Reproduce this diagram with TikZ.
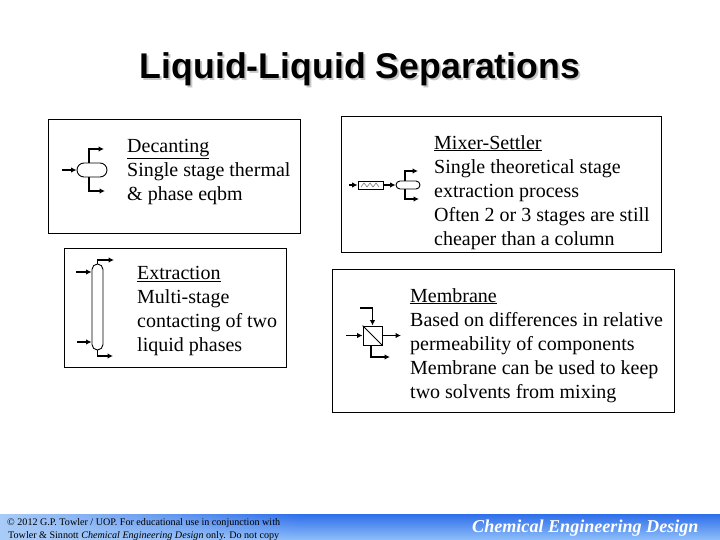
\documentclass[tikz,border=0pt]{standalone}
\usepackage{fontspec}
\setmainfont{Liberation Serif}
\newfontfamily\titlefont{Liberation Sans}
\usetikzlibrary{arrows.meta,fadings}

\definecolor{bandtop}{HTML}{2E6EEA}
\definecolor{bandlow}{HTML}{8FBEFA}
\definecolor{bandpale}{HTML}{A9CCF8}

\tikzset{
	panel/.style={draw=black, line width=0.9pt, inner sep=0pt, anchor=north west},
	label/.style={anchor=north west, inner sep=0pt, align=left, font=\fontsize{20}{24}\selectfont},
	vessel/.style={draw=black, line width=0.9pt, inner sep=0pt, fill=white},
	stream/.style={line width=1.8pt, -{Latex[length=5.5pt,width=5.5pt]}}
}

\begin{document}
\begin{tikzpicture}[x=1pt,y=-1pt]

	\useasboundingbox (0,0) rectangle (720,540);

	% Footer band

	\fill[top color=bandtop, bottom color=bandlow] (0,514) rectangle (720,540);
	\fill[bandpale, path fading=east] (0,514) rectangle (300,540);

	% Title

	\node[gray!45, font=\titlefont\bfseries\fontsize{35.7}{40}\selectfont] (shade) at (362,71) {Liquid-Liquid Separations};
	\node[font=\titlefont\bfseries\fontsize{35.7}{40}\selectfont] (title) at (360,69) {Liquid-Liquid Separations};

	% Panels

	\node[panel, minimum width=252pt, minimum height=114pt] (boxdec) at (48,119) {};
	\node[panel, minimum width=222pt, minimum height=119pt] (boxext) at (64,248) {};
	\node[panel, minimum width=320pt, minimum height=136pt] (boxmix) at (341,116) {};
	\node[panel, minimum width=342pt, minimum height=143pt] (boxmem) at (332,269) {};

	\node[label] (txtdec) at (127,139) {\underline{Decanting}\\Single stage thermal\\\& phase eqbm};
	\node[label] (txtext) at (137,266) {\underline{Extraction}\\Multi-stage\\contacting of two\\liquid phases};
	\node[label] (txtmix) at (434,135) {\underline{Mixer-Settler}\\Single theoretical stage\\extraction process\\Often 2 or 3 stages are still\\cheaper than a column};
	\node[label] (txtmem) at (410,288) {\underline{Membrane}\\Based on differences in relative\\permeability of components\\Membrane can be used to keep\\two solvents from mixing};

	% Equipment

	\node[vessel, minimum width=30pt, minimum height=14pt, rounded corners=7pt] (dec) at (92,170) {};
	\node[vessel, minimum width=11pt, minimum height=86pt, rounded corners=5.5pt] (col) at (97.5,307) {};
	\node[vessel, minimum width=25pt, minimum height=8pt] (mix) at (370.5,185) {};
	\node[vessel, minimum width=24pt, minimum height=8pt, rounded corners=4pt] (set) at (408,185) {};
	\node[vessel, minimum width=19pt, minimum height=19pt] (mem) at (372.5,335.5) {};

	% Stream ends

	\coordinate (decin) at (62,170);
	\coordinate (dectop) at (104,149);
	\coordinate (decbot) at (105,191);
	\coordinate (extin1) at (76,272);
	\coordinate (extin2) at (77,342);
	\coordinate (exttop) at (114,260);
	\coordinate (extbot) at (113,356);
	\coordinate (mixin) at (349,185);
	\coordinate (settop) at (418,171);
	\coordinate (setbot) at (419,199);
	\coordinate (memin) at (346,335.5);
	\coordinate (memout) at (401,335.5);
	\coordinate (memtop) at (360,308);
	\coordinate (membot) at (390,357);

	\draw[stream] (decin) -- (dec.west);
	\draw[stream] ([xshift=-3pt]dec.north) |- (dectop);
	\draw[stream] ([xshift=-3pt]dec.south) |- (decbot);

	\draw[stream] (extin1) -- (extin1 -| col.west);
	\draw[stream] (extin2) -- (extin2 -| col.west);
	\draw[stream] (col.north) |- (exttop);
	\draw[stream] (col.south) |- (extbot);

	\draw[stream] (mixin) -- (mix.west);
	\draw[stream] (mix.east) -- (set.west);
	\draw[stream] ([xshift=-3pt]set.north) |- (settop);
	\draw[stream] ([xshift=-3pt]set.south) |- (setbot);

	\draw[stream] (memin) -- (mem.west);
	\draw[stream] (mem.east) -- (memout);
	\draw[stream] (memtop) -| (mem.north);
	\draw[stream] ([xshift=-1.5pt]mem.south) |- (membot);
	\draw[line width=0.8pt] (mem.north west) -- (mem.south east);

	% Packing of the mixer

	\foreach \i in {361,367,373}
	\draw[gray, line width=0.6pt] (\i,187) -- (\i+3,183) -- (\i+6,187);

	% Footer text

	\node[anchor=base west, inner sep=0pt, font=\fontsize{10.1}{12}\selectfont] (copyone) at (7,525) {© 2012 G.P. Towler / UOP. For educational use in conjunction with};
	\node[anchor=base west, inner sep=0pt, font=\fontsize{10.1}{12}\selectfont] (copytwo) at (8,538) {Towler \& Sinnott \textit{Chemical Engineering Design} only. Do not copy};
	\node[anchor=base west, inner sep=0pt, text=white, font=\bfseries\itshape\fontsize{18.1}{22}\selectfont] (brand) at (472,532) {Chemical Engineering Design};

\end{tikzpicture}
\end{document}
